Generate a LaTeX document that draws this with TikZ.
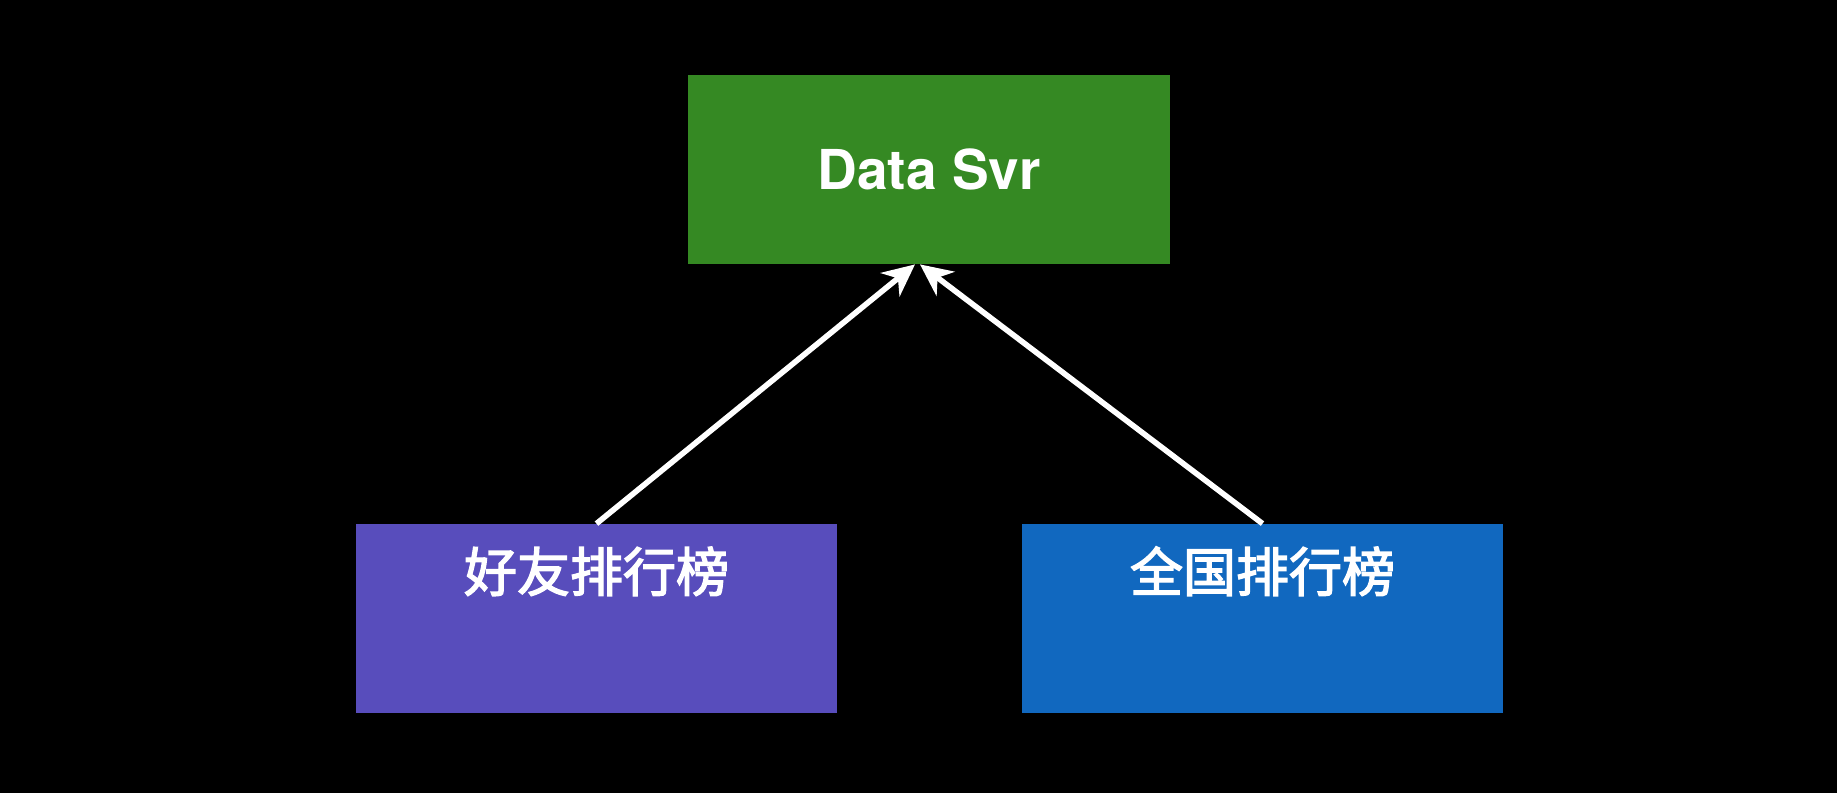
\documentclass[tikz,border=0pt]{standalone}
\usepackage{fontspec}
\setmainfont{TeX Gyre Heros}
\newfontfamily\cjk[FakeBold=2.5]{Noto Sans CJK SC}
\usetikzlibrary{arrows.meta}
\definecolor{svrgreen}{RGB}{53,137,35}
\definecolor{rankpurple}{RGB}{88,77,188}
\definecolor{rankblue}{RGB}{17,104,191}
\tikzset{
  svrbox/.style={fill=svrgreen, text=white, minimum width=241pt, minimum height=94.5pt,
    inner sep=0pt, font=\fontsize{27.5}{30}\selectfont\bfseries},
  rankbox/.style={text=white, minimum width=240.5pt, inner xsep=0pt, inner ysep=0pt,
    text height=33.8pt, text depth=60.7pt, font=\cjk\fontsize{26.5}{30}\selectfont},
  link/.style={draw=white, line width=2.8pt, -{Stealth[length=16pt, width=15pt, inset=5pt]}}
}
\begin{document}
\begin{tikzpicture}[x=0.5pt, y=-0.5pt]
\fill[black] (0,0) rectangle (1837,793);
\useasboundingbox (0,0) rectangle (1837,793);
\node[svrbox] (svr) at (929,169.5) {Data Svr};
\node[rankbox, fill=rankpurple] (fr) at (596.5,618.5) {好友排行榜};
\node[rankbox, fill=rankblue] (qg) at (1262.5,618.5) {全国排行榜};
\draw [link] (fr.north) -- ([xshift=-7pt]svr.south);
\draw [link] (qg.north) -- ([xshift=-4.5pt]svr.south);
\end{tikzpicture}
\end{document}
